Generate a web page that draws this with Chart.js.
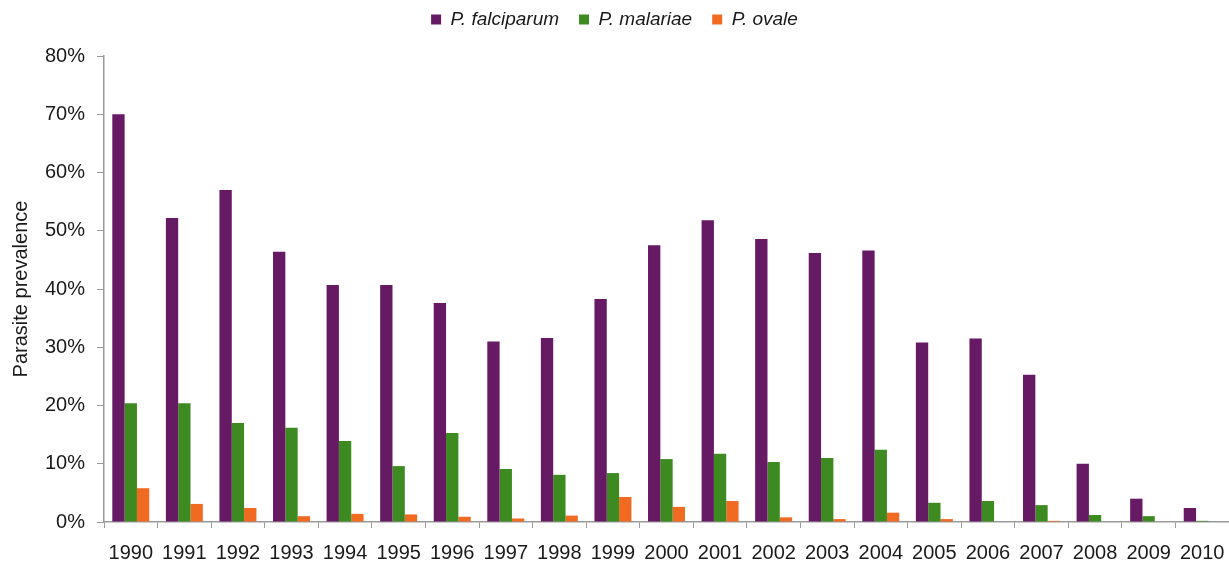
<!DOCTYPE html>
<html>
<head>
<meta charset="utf-8">
<script src="https://cdn.jsdelivr.net/npm/chart.js@4/dist/chart.umd.min.js"></script>
<style>
  html, body { margin: 0; padding: 0; background: #fff; overflow: hidden; }
  #wrap { width: 1229px; height: 567px; }
</style>
</head>
<body>
<div id="wrap"><canvas id="c" width="1229" height="567"></canvas></div>
<script>
const years = ['1990','1991','1992','1993','1994','1995','1996','1997','1998','1999','2000','2001','2002','2003','2004','2005','2006','2007','2008','2009','2010'];
const falciparum = [70.0, 52.2, 57.0, 46.4, 40.7, 40.7, 37.6, 31.0, 31.6, 38.3, 47.5, 51.8, 48.6, 46.2, 46.6, 30.8, 31.5, 25.3, 10.0, 4.0, 2.4];
const malariae   = [20.4, 20.4, 17.0, 16.2, 13.9, 9.6, 15.3, 9.1, 8.1, 8.4, 10.8, 11.7, 10.3, 11.0, 12.4, 3.3, 3.6, 2.9, 1.2, 1.0, 0.2];
const ovale      = [5.8, 3.1, 2.4, 1.0, 1.4, 1.3, 0.9, 0.6, 1.1, 4.3, 2.6, 3.6, 0.8, 0.5, 1.6, 0.5, 0.0, 0.2, 0.0, 0.0, 0.0];
const yTicks = [0, 10, 20, 30, 40, 50, 60, 70, 80];

Chart.defaults.font.family = "'Liberation Sans', Arial, Helvetica, sans-serif";
Chart.defaults.color = '#1a1a1a';

const legendFix = {
  id: 'legendFix',
  beforeInit(chart) {
    const lg = chart.legend;
    if (lg) {
      const orig = lg.fit;
      lg.fit = function () { orig.call(this); this.height = 66; };
    }
  }
};

new Chart(document.getElementById('c'), {
  type: 'bar',
  data: {
    labels: years,
    datasets: [
      { label: 'P. falciparum', data: falciparum, backgroundColor: '#661a63' },
      { label: 'P. malariae', data: malariae, backgroundColor: '#3d8a20' },
      { label: 'P. ovale', data: ovale, backgroundColor: '#f06a22' }
    ]
  },
  plugins: [legendFix],
  options: {
    responsive: false,
    animation: false,
    layout: { padding: { top: -10, left: 0, right: 0, bottom: 0 } },
    datasets: { bar: { categoryPercentage: 0.69, barPercentage: 1.0 } },
    plugins: {
      tooltip: { enabled: false },
      legend: {
        position: 'top',
        labels: {
          boxWidth: 10, boxHeight: 10,
          padding: 20,
          font: { size: 19, style: 'italic' },
          color: '#1a1a1a'
        }
      }
    },
    scales: {
      x: {
        offset: true,
        grid: { display: true, drawOnChartArea: false, drawTicks: true, tickLength: 6, color: '#9a9a9a', offset: true },
        border: { display: true, color: '#9a9a9a', width: 1.5 },
        ticks: { font: { size: 20 }, padding: 13, maxRotation: 0, autoSkip: false, color: '#1a1a1a' },
        afterFit(s) { s.height = 45; s.paddingLeft = 0; s.paddingRight = 0; }
      },
      y: {
        min: 0, max: 80,
        afterBuildTicks(s) { s.ticks = yTicks.map(v => ({ value: v })); },
        grid: { display: true, drawOnChartArea: false, drawTicks: true, tickLength: 7, color: '#9a9a9a' },
        border: { display: true, color: '#9a9a9a', width: 1.5 },
        ticks: { font: { size: 20 }, padding: 12, color: '#1a1a1a', callback: v => v + '%' },
        title: { display: true, text: 'Parasite prevalence', font: { size: 20 }, color: '#1a1a1a', padding: { top: 9, bottom: 0 } },
        afterFit(s) { s.width = 104; }
      }
    }
  }
});
</script>
</body>
</html>
